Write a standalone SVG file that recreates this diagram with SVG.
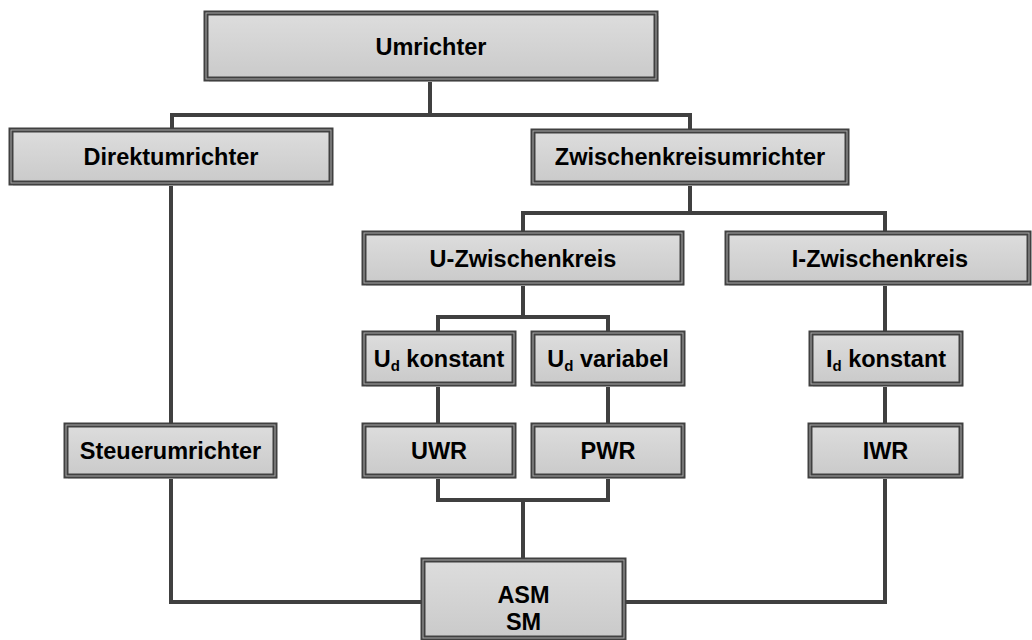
<svg xmlns="http://www.w3.org/2000/svg" width="1032" height="640" viewBox="0 0 1032 640">
  <defs>
    <linearGradient id="boxFill" x1="0" y1="0" x2="0" y2="1">
      <stop offset="0" stop-color="#dddddd"/>
      <stop offset="1" stop-color="#cacaca"/>
    </linearGradient>
    <style>
      .shadow { fill: #e2e2e2; }
      .box { fill: url(#boxFill); stroke: #404040; stroke-width: 5; }
      .inner { fill: none; stroke: #a8a8a8; stroke-width: 1; }
      .lbl { font-family: "Liberation Sans", Arial, sans-serif; font-weight: bold; font-size: 23.5px; fill: #000; text-anchor: middle; }
      .sub { font-size: 15px; }
      .conn { fill: none; stroke: #404040; stroke-width: 4; stroke-linejoin: miter; stroke-linecap: butt; }
    </style>
  </defs>
  <rect width="1032" height="640" fill="#ffffff"/>

  <g id="connectors">
    <path class="conn" d="M430 79 V115 M172 115 H690 M172 113 V130 M690 113 V131"/>
    <path class="conn" d="M171 183 V425"/>
    <path class="conn" d="M690 183 V213 M523 213 H885 M523 211 V233 M885 211 V233"/>
    <path class="conn" d="M523 283 V317 M438 317 H608 M438 315 V333 M608 315 V333"/>
    <path class="conn" d="M885 283 V333"/>
    <path class="conn" d="M438 384 V425 M608 384 V425 M885 384 V425"/>
    <path class="conn" d="M438 476 V500 H608 V476 M523 500 V560"/>
    <path class="conn" d="M171 476 V602 H422"/>
    <path class="conn" d="M885 476 V602 H625"/>
  </g>

  <g id="umrichter">
    <rect class="shadow" x="209" y="16" width="450" height="66"/>
    <rect class="box" x="206" y="13" width="450" height="66"/>
    <rect class="inner" x="206" y="13" width="450" height="66"/>
    <text class="lbl" x="431" y="55">Umrichter</text>
  </g>

  <g id="direktumrichter">
    <rect class="shadow" x="13" y="133" width="320" height="53"/>
    <rect class="box" x="11" y="130" width="320" height="53"/>
    <rect class="inner" x="11" y="130" width="320" height="53"/>
    <text class="lbl" x="171" y="165">Direktumrichter</text>
  </g>

  <g id="zwischenkreisumrichter">
    <rect class="shadow" x="535" y="134" width="314" height="52"/>
    <rect class="box" x="533" y="131" width="314" height="52"/>
    <rect class="inner" x="533" y="131" width="314" height="52"/>
    <text class="lbl" x="690" y="165">Zwischenkreisumrichter</text>
  </g>

  <g id="u-zwischenkreis">
    <rect class="shadow" x="366" y="236" width="318" height="50"/>
    <rect class="box" x="364" y="233" width="318" height="50"/>
    <rect class="inner" x="364" y="233" width="318" height="50"/>
    <text class="lbl" x="523" y="266.5">U-Zwischenkreis</text>
  </g>

  <g id="i-zwischenkreis">
    <rect class="shadow" x="729" y="236" width="302" height="50"/>
    <rect class="box" x="727" y="233" width="302" height="50"/>
    <rect class="inner" x="727" y="233" width="302" height="50"/>
    <text class="lbl" x="880" y="266.5">I-Zwischenkreis</text>
  </g>

  <g id="ud-konstant">
    <rect class="shadow" x="366" y="336" width="150" height="51"/>
    <rect class="box" x="364" y="333" width="150" height="51"/>
    <rect class="inner" x="364" y="333" width="150" height="51"/>
    <text class="lbl" x="439" y="367">U<tspan class="sub" dy="4">d</tspan><tspan dy="-4"> konstant</tspan></text>
  </g>

  <g id="ud-variabel">
    <rect class="shadow" x="535" y="336" width="150" height="51"/>
    <rect class="box" x="533" y="333" width="150" height="51"/>
    <rect class="inner" x="533" y="333" width="150" height="51"/>
    <text class="lbl" x="608" y="367">U<tspan class="sub" dy="4">d</tspan><tspan dy="-4"> variabel</tspan></text>
  </g>

  <g id="id-konstant">
    <rect class="shadow" x="813" y="336" width="150" height="51"/>
    <rect class="box" x="811" y="333" width="150" height="51"/>
    <rect class="inner" x="811" y="333" width="150" height="51"/>
    <text class="lbl" x="886" y="367">I<tspan class="sub" dy="4">d</tspan><tspan dy="-4"> konstant</tspan></text>
  </g>

  <g id="steuerumrichter">
    <rect class="shadow" x="68" y="428" width="209" height="51"/>
    <rect class="box" x="66" y="425" width="209" height="51"/>
    <rect class="inner" x="66" y="425" width="209" height="51"/>
    <text class="lbl" x="170.5" y="459">Steuerumrichter</text>
  </g>

  <g id="uwr">
    <rect class="shadow" x="366" y="428" width="150" height="51"/>
    <rect class="box" x="364" y="425" width="150" height="51"/>
    <rect class="inner" x="364" y="425" width="150" height="51"/>
    <text class="lbl" x="439" y="459">UWR</text>
  </g>

  <g id="pwr">
    <rect class="shadow" x="535" y="428" width="150" height="51"/>
    <rect class="box" x="533" y="425" width="150" height="51"/>
    <rect class="inner" x="533" y="425" width="150" height="51"/>
    <text class="lbl" x="608" y="459">PWR</text>
  </g>

  <g id="iwr">
    <rect class="shadow" x="812" y="428" width="151" height="51"/>
    <rect class="box" x="810" y="425" width="151" height="51"/>
    <rect class="inner" x="810" y="425" width="151" height="51"/>
    <text class="lbl" x="885.5" y="459">IWR</text>
  </g>

  <g id="asm-sm">
    <rect class="shadow" x="425" y="563" width="201" height="78"/>
    <rect class="box" x="423" y="560" width="201" height="78"/>
    <rect class="inner" x="423" y="560" width="201" height="78"/>
    <text class="lbl" x="523.5" y="603">ASM</text>
    <text class="lbl" x="523.5" y="630">SM</text>
  </g>
</svg>
